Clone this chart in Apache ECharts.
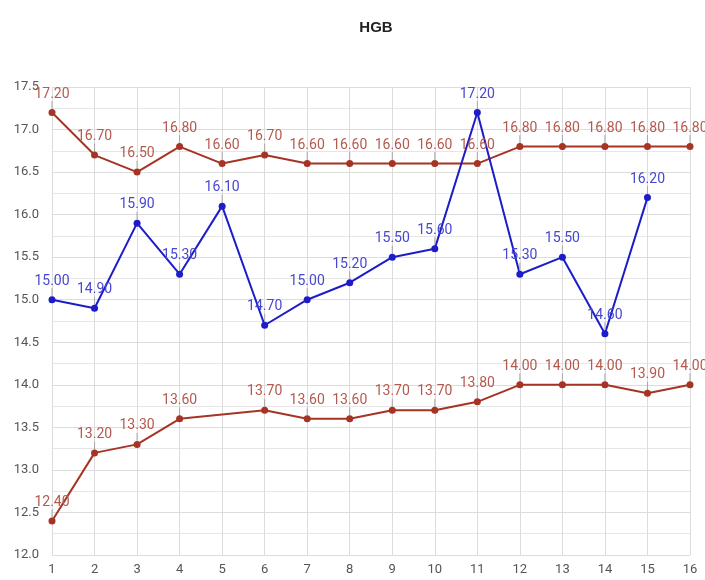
<!DOCTYPE html>
<html>
<head>
<meta charset="utf-8">
<script src="https://cdn.jsdelivr.net/npm/echarts@6/dist/echarts.min.js"></script>
<style>
  html, body { margin: 0; padding: 0; background: #fff; }
  #chart { width: 705px; height: 580px; }
</style>
</head>
<body>
<div id="chart"></div>
<script>
var categories = ['1','2','3','4','5','6','7','8','9','10','11','12','13','14','15','16'];
var upperRed = [17.2, 16.7, 16.5, 16.8, 16.6, 16.7, 16.6, 16.6, 16.6, 16.6, 16.6, 16.8, 16.8, 16.8, 16.8, 16.8];
var blueSeries = [15.0, 14.9, 15.9, 15.3, 16.1, 14.7, 15.0, 15.2, 15.5, 15.6, 17.2, 15.3, 15.5, 14.6, 16.2, null];
var lowerRed = [12.4, 13.2, 13.3, 13.6, null, 13.7, 13.6, 13.6, 13.7, 13.7, 13.8, 14.0, 14.0, 14.0, 13.9, 14.0];

var RED = '#a63424';
var RED_LABEL = '#b35a4e';
var BLUE = '#1c1cc8';
var BLUE_LABEL = '#4747cf';

function makeSeries(data, color, labelColor) {
    return {
        type: 'line',
        data: data,
        connectNulls: true,
        symbol: 'circle',
        symbolSize: 7,
        itemStyle: { color: color },
        lineStyle: { color: color, width: 2 },
        label: {
            show: true,
            position: 'top',
            distance: 2,
            color: labelColor,
            fontSize: 14,
            fontFamily: 'Roboto, Arial, sans-serif',
            formatter: function (p) { return Number(p.value).toFixed(2); }
        },
        labelLayout: { dy: -6 },
        labelLine: {
            show: true,
            length2: 0,
            smooth: false,
            lineStyle: { color: '#a8a8a8', width: 1 }
        },
        animation: false
    };
}

var chart = echarts.init(document.getElementById('chart'));
chart.setOption({
    backgroundColor: '#fff',
    title: {
        text: 'HGB',
        left: 371,
        top: 15,
        textAlign: 'center',
        textStyle: { fontSize: 15, fontWeight: 'bold', color: '#222', fontFamily: 'Liberation Sans, Arial, sans-serif' }
    },
    grid: { left: 52, right: 15, top: 87, bottom: 25, containLabel: false },
    xAxis: {
        type: 'category',
        data: categories,
        boundaryGap: false,
        axisLine: { show: false },
        axisTick: { show: false },
        axisLabel: { color: '#555', fontSize: 13, margin: 8, fontFamily: 'Roboto, Arial, sans-serif' },
        splitLine: { show: true, lineStyle: { color: '#dcdcdc', width: 1 } }
    },
    yAxis: {
        type: 'value',
        min: 12,
        max: 17.5,
        interval: 0.5,
        axisLine: { show: false },
        axisTick: { show: false },
        axisLabel: {
            color: '#555', fontSize: 13, margin: 13, fontFamily: 'Roboto, Arial, sans-serif',
            formatter: function (v) { return v.toFixed(1); }
        },
        splitLine: { show: true, lineStyle: { color: '#dcdcdc', width: 1 } },
        minorTick: { show: false, splitNumber: 2 },
        minorSplitLine: { show: true, lineStyle: { color: '#e6e6e6', width: 1 } }
    },
    series: [
        makeSeries(upperRed, RED, RED_LABEL),
        makeSeries(blueSeries, BLUE, BLUE_LABEL),
        makeSeries(lowerRed, RED, RED_LABEL)
    ]
});
</script>
</body>
</html>
